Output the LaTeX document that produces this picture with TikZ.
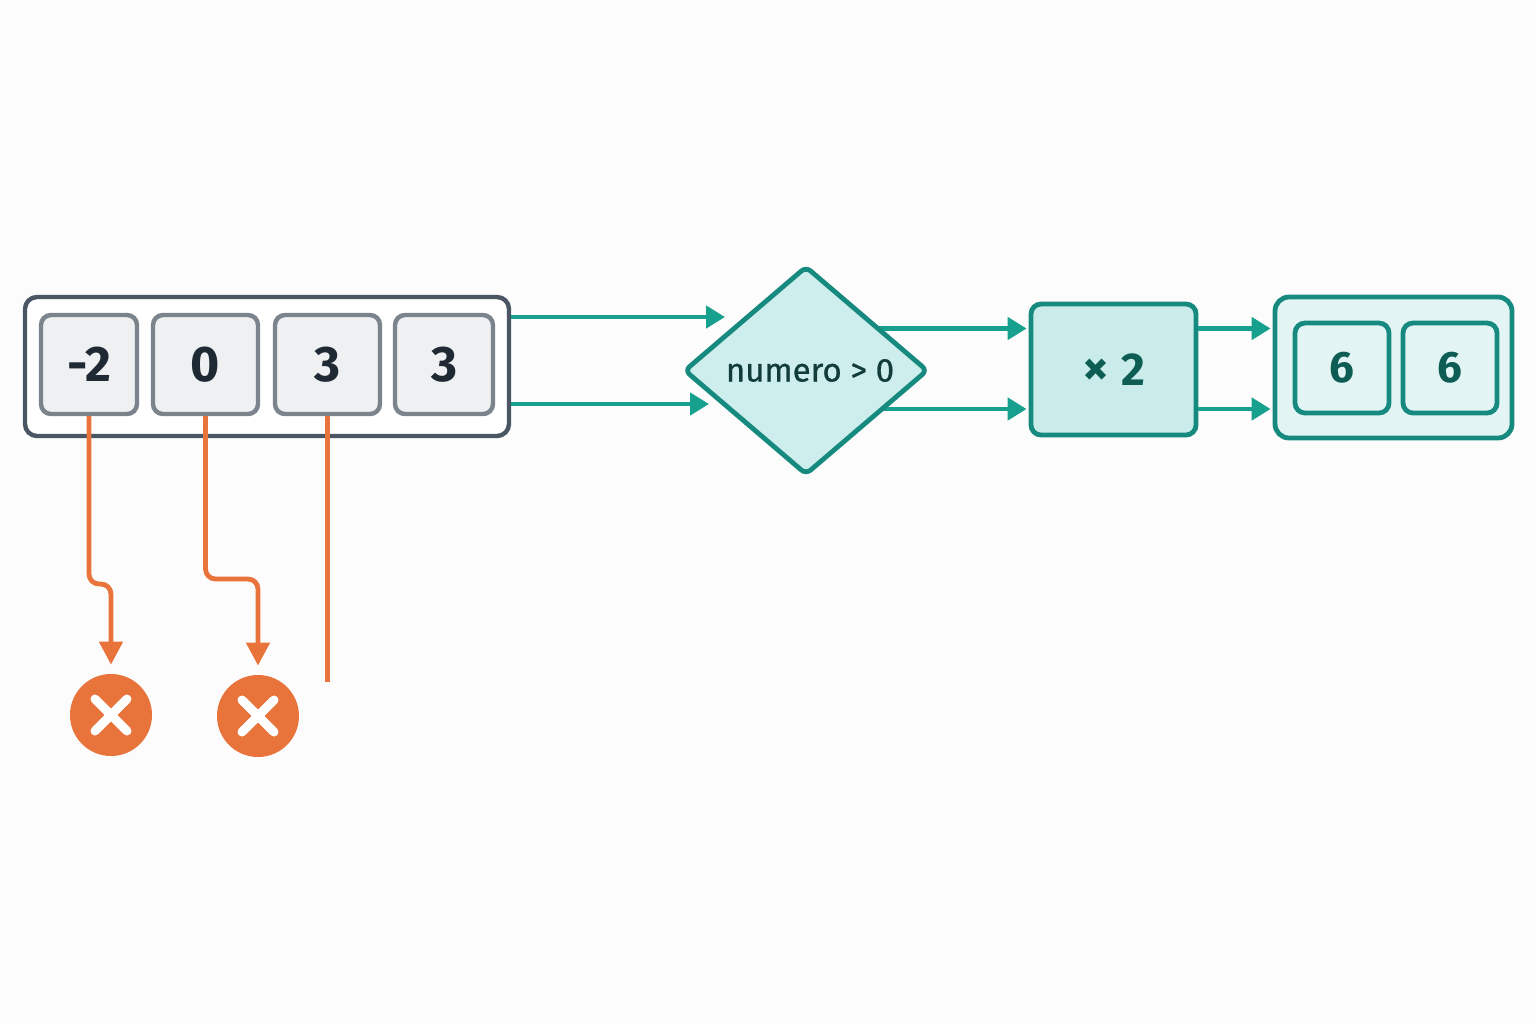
\documentclass[tikz,border=0pt]{standalone}
\usepackage{fontspec}
\setmainfont{Fira Sans}
\usetikzlibrary{shapes.geometric,arrows.meta}
\definecolor{bg}{HTML}{FCFCFC}
\definecolor{outerc}{HTML}{4A5663}
\definecolor{cellfill}{HTML}{EEF0F2}
\definecolor{cellline}{HTML}{7B838C}
\definecolor{digit}{HTML}{1E2933}
\definecolor{tealline}{HTML}{17A08E}
\definecolor{tealstroke}{HTML}{178A7F}
\definecolor{diafill}{HTML}{CDEEED}
\definecolor{mulfill}{HTML}{C9ECEA}
\definecolor{outfill}{HTML}{E2F5F4}
\definecolor{outtext}{HTML}{0E5D55}
\definecolor{diatext}{HTML}{113C3A}
\definecolor{orangec}{HTML}{E8743B}
\begin{document}
\begin{tikzpicture}[x=0.5pt,y=-0.5pt,
  outerbox/.style={draw=outerc,line width=2.2pt,rounded corners=6pt,fill=white,inner sep=0pt},
  cellbox/.style={draw=cellline,line width=2.2pt,rounded corners=5pt,fill=cellfill,inner sep=0pt,
    minimum height=49.5pt,text=digit,font=\fontsize{25}{30}\selectfont\bfseries},
  decision/.style={diamond,draw=tealstroke,line width=2.4pt,rounded corners=3pt,fill=diafill,inner sep=0pt,
    minimum width=122pt,minimum height=104.5pt,text=diatext,font=\fontsize{16.5}{20}\selectfont\addfontfeatures{FakeBold=0.8}},
  opbox/.style={draw=tealstroke,line width=2.4pt,rounded corners=5pt,fill=mulfill,inner sep=0pt,
    minimum width=82.5pt,minimum height=65.5pt,text=outtext,font=\fontsize{23}{27}\selectfont\bfseries},
  resbox/.style={draw=tealstroke,line width=2.4pt,rounded corners=7pt,fill=outfill,inner sep=0pt,
    minimum width=118.5pt,minimum height=70.5pt},
  rescell/.style={draw=tealstroke,line width=2.4pt,rounded corners=5pt,fill=outfill,inner sep=0pt,
    minimum width=47pt,minimum height=45pt,text=outtext,font=\fontsize{22}{26}\selectfont\bfseries},
  flow/.style={draw=tealline,line width=2.3pt,-{Triangle[length=9.5pt,width=11pt]}},
  reject/.style={draw=orangec,line width=2.4pt,rounded corners=5pt,-{Triangle[length=11.5pt,width=11.5pt]}},
  rejline/.style={draw=orangec,line width=2.4pt},
  xmark/.style={circle,fill=orangec,inner sep=0pt,minimum size=41pt},
  xstroke/.style={draw=white,line width=4.5pt,line cap=round}]
\useasboundingbox[fill=bg] (0,0) rectangle (1536,1024);

% input array
\node[outerbox,minimum width=242pt,minimum height=69.5pt] (arr) at (267,366.5) {};
\node[cellbox,minimum width=48pt] (c1) at (89,364.5) {-2};
\node[cellbox,minimum width=52.5pt] (c2) at (205.5,364.5) {0};
\node[cellbox,minimum width=52.5pt] (c3) at (327.5,364.5) {3};
\node[cellbox,minimum width=49pt] (c4) at (444,364.5) {3};

% arrows to decision
\coordinate (t1) at (725,317);
\coordinate (t2) at (709,404);
\draw[flow] (arr.east |- t1) -- (t1);
\draw[flow] (arr.east |- t2) -- (t2);

% arrows decision -> multiply (drawn beneath the diamond)
\coordinate (m1) at (0,328.5);
\coordinate (m2) at (0,409);
\node[opbox] (mul) at (1113.5,369.5) {{\fontsize{26}{26}\selectfont×}\hspace{6pt}2};
\draw[flow,shorten >=1pt] (806,328.5) -- (mul.west |- m1);
\draw[flow,shorten >=1pt] (806,409) -- (mul.west |- m2);
\node[decision] (dia) at (806,370.5) {\hspace{4pt}numero > 0};

% result
\node[resbox] (out) at (1393.5,367.5) {};
\node[rescell] (r1) at (1342,368) {6};
\node[rescell] (r2) at (1450,368) {6};
\draw[flow,shorten >=1pt] (mul.east |- m1) -- (out.west |- m1);
\draw[flow,shorten >=1pt] (mul.east |- m2) -- (out.west |- m2);

% rejections
\node[xmark] (x1) at (111,715) {};
\node[xmark] (x2) at (258,716) {};
\draw[xstroke] (x1.center) ++(-16,-16) -- ++(32,32);
\draw[xstroke] (x1.center) ++(16,-16) -- ++(-32,32);
\draw[xstroke] (x2.center) ++(-16,-16) -- ++(32,32);
\draw[xstroke] (x2.center) ++(16,-16) -- ++(-32,32);
\draw[reject,shorten >=4.5pt] (c1.south) -- (c1.south |- 0,584) -| (x1.north);
\draw[reject,shorten >=4.5pt] (c2.south) -- (c2.south |- 0,579) -| (x2.north);
\coordinate (e3) at (327.5,682);
\draw[rejline] (c3.south) -- (e3);
\end{tikzpicture}
\end{document}
